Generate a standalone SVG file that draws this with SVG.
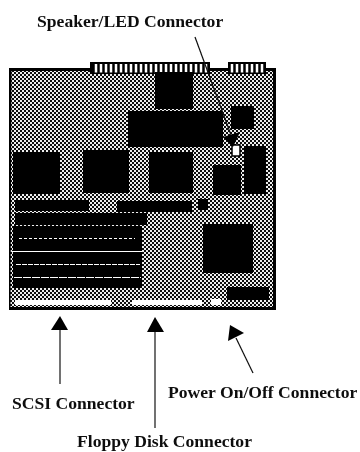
<svg xmlns="http://www.w3.org/2000/svg" width="360" height="452" viewBox="0 0 360 452">
<style>
text{font-family:"Liberation Serif","Times New Roman",serif;font-weight:bold;font-size:17.6px;fill:#111}
.k{fill:#000}
.w{fill:#fff}
.l{stroke:#111;stroke-width:1.200;fill:none}
.s{stroke:#fff;stroke-width:1;fill:none}
</style>
<defs>
<pattern id="dith" width="4" height="4" patternUnits="userSpaceOnUse">
<rect width="4" height="4" fill="#111"/>
<rect x="0" y="0" width="2" height="2" fill="#eee"/>
<rect x="2" y="2" width="2" height="2" fill="#eee"/>
</pattern>
<filter id="soft" x="0" y="0" width="100%" height="100%"><feGaussianBlur stdDeviation="0.350"/></filter>
</defs>
<rect width="360" height="452" fill="#fff"/>
<g filter="url(#soft)">
<g id="board">
<path d="M10 69.500H274.500V308.500H9Z" fill="url(#dith)" stroke="#000" stroke-width="3"/>
<g id="top-connectors">
<rect class="k" x="90" y="62" width="120" height="12"/>
<rect class="k" x="228" y="62" width="38" height="12"/>
<path d="M96 64V72.500M101 64V72.500M106 64V72.500M111 64V72.500M116 64V72.500M121 64V72.500M126 64V72.500M131 64V72.500M136 64V72.500M141 64V72.500M146 64V72.500M151 64V72.500M156 64V72.500M161 64V72.500M166 64V72.500M171 64V72.500M176 64V72.500M181 64V72.500M186 64V72.500M191 64V72.500M196 64V72.500M201 64V72.500M206 64V72.500M232 64V72.500M237 64V72.500M242 64V72.500M247 64V72.500M252 64V72.500M257 64V72.500M262 64V72.500" stroke="#fff" stroke-width="2.500"/>
</g>
<g id="chips">
<rect class="k" x="155" y="72" width="38" height="37"/>
<rect class="k" x="128" y="111" width="95" height="36"/>
<rect class="k" x="231" y="106" width="23" height="23"/>
<rect class="k" x="13" y="152" width="47" height="42"/>
<rect class="k" x="83" y="150" width="46" height="43"/>
<rect class="k" x="149" y="152" width="44" height="41"/>
<rect class="k" x="213" y="165" width="28" height="30"/>
<rect class="k" x="244" y="146" width="22" height="48"/>
<rect class="k" x="15" y="200" width="74" height="11"/>
<rect class="k" x="117" y="201" width="75" height="11"/>
<rect class="k" x="198" y="199" width="10" height="11"/>
<rect class="k" x="15" y="213" width="132" height="12"/>
<rect class="k" x="203" y="224" width="50" height="49"/>
<rect class="k" x="227" y="287" width="42" height="13"/>
</g>
<g id="slots">
<rect class="k" x="13" y="226" width="129" height="62"/>
<path class="s" d="M19 238.500H135" stroke-dasharray="3 2"/>
<path class="s" d="M12 251.500H142"/>
<path class="s" d="M16 264.500H140" stroke-dasharray="5 1"/>
<path class="s" d="M14 277.500H141" stroke-dasharray="8 1"/>
</g>
<g id="bottom-connectors">
<rect class="w" x="15" y="300" width="96" height="5"/>
<rect class="w" x="132" y="300" width="70" height="5"/>
<rect class="w" x="211" y="299" width="10" height="6"/>
</g>
<rect id="speaker-header" x="232" y="145" width="8" height="11" fill="#fff" stroke="#000" stroke-width="1.500"/>
</g>
<g id="connectors">
<path class="l" d="M195 37L231 135"/>
<path class="k" d="M240 132L223 137L233 147Z"/>
<path class="l" d="M60 384V327"/>
<path class="k" d="M60 316L51 330H68Z"/>
<path class="l" d="M155 428V330"/>
<path class="k" d="M155 317L147 332H164Z"/>
<path class="l" d="M253 373L236 338"/>
<path class="k" d="M230 325L228 341L244 333Z"/>
</g>
<g id="labels">
<text id="label-speaker" x="37" y="27">Speaker/LED Connector</text>
<text id="label-scsi" x="12" y="409">SCSI Connector</text>
<text id="label-power" x="168" y="398">Power On/Off Connector</text>
<text id="label-floppy" x="77" y="447">Floppy Disk Connector</text>
</g>
</g>
</svg>
